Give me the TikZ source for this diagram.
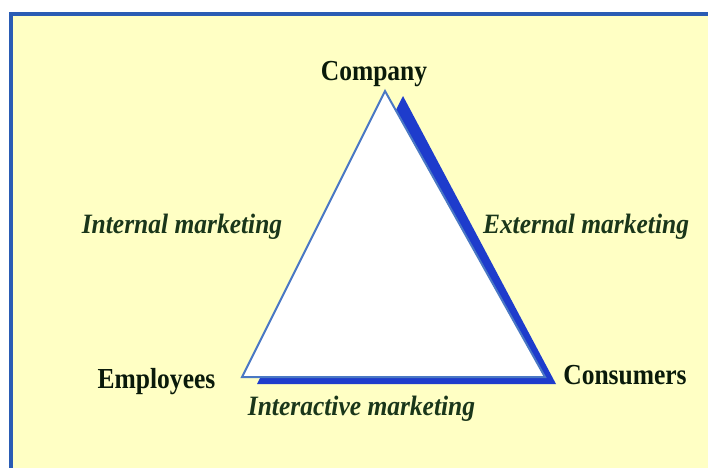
\documentclass[tikz,border=0pt]{standalone}
\usepackage{fontspec}
\setmainfont{Liberation Serif}
\definecolor{bgyellow}{HTML}{FFFFC4}
\definecolor{framebl}{HTML}{2A5CB4}
\definecolor{edgebl}{HTML}{4A78C4}
\definecolor{shadowbl}{HTML}{1E3CCC}
\definecolor{txtdark}{HTML}{0A1A0A}
\definecolor{txtit}{HTML}{1A361A}
\newcommand{\vtxt}[1]{\scalebox{0.88}[1]{#1}}
\newcommand{\etxt}[1]{\scalebox{0.91}[1]{#1}}
\tikzset{
  vlabel/.style={font=\fontsize{29}{31}\selectfont\bfseries, text=txtdark, inner sep=0pt, anchor=base},
  elabel/.style={font=\fontsize{28}{30}\selectfont\bfseries\itshape, text=txtit, inner sep=0pt, anchor=base},
}
\begin{document}
\begin{tikzpicture}[x=1pt,y=-1pt]
\useasboundingbox (0,0) rectangle (708,467);
\fill[white] (0,0) rectangle (708,467);
\begin{scope}
\clip (0,0) rectangle (708,467);
\fill[bgyellow] (11,14) rectangle (730,490);
\draw[framebl, line width=3.4pt] (11,14) rectangle (730,490);
\end{scope}
% shadow
\coordinate (sa) at (403,96);
\coordinate (sb) at (257,384);
\coordinate (sc) at (556,384);
\fill[shadowbl] (sa) -- (sb) -- (sc) -- cycle;
% main triangle
\coordinate (ta) at (385,91);
\coordinate (tb) at (242,377);
\coordinate (tc) at (545,377);
\filldraw[fill=white, draw=edgebl, line width=2pt, line join=miter] (ta) -- (tb) -- (tc) -- cycle;
% labels
\node[vlabel] (company) at (374,80) {\vtxt{Company}};
\node[vlabel] (employees) at (156.5,388) {\vtxt{Employees}};
\node[vlabel] (consumers) at (625,384) {\vtxt{Consumers}};
\node[elabel] (internal) at (182,233) {\etxt{Internal marketing}};
\node[elabel] (external) at (586,233) {\etxt{External marketing}};
\node[elabel] (interactive) at (361.5,415) {\etxt{Interactive marketing}};
\end{tikzpicture}
\end{document}
